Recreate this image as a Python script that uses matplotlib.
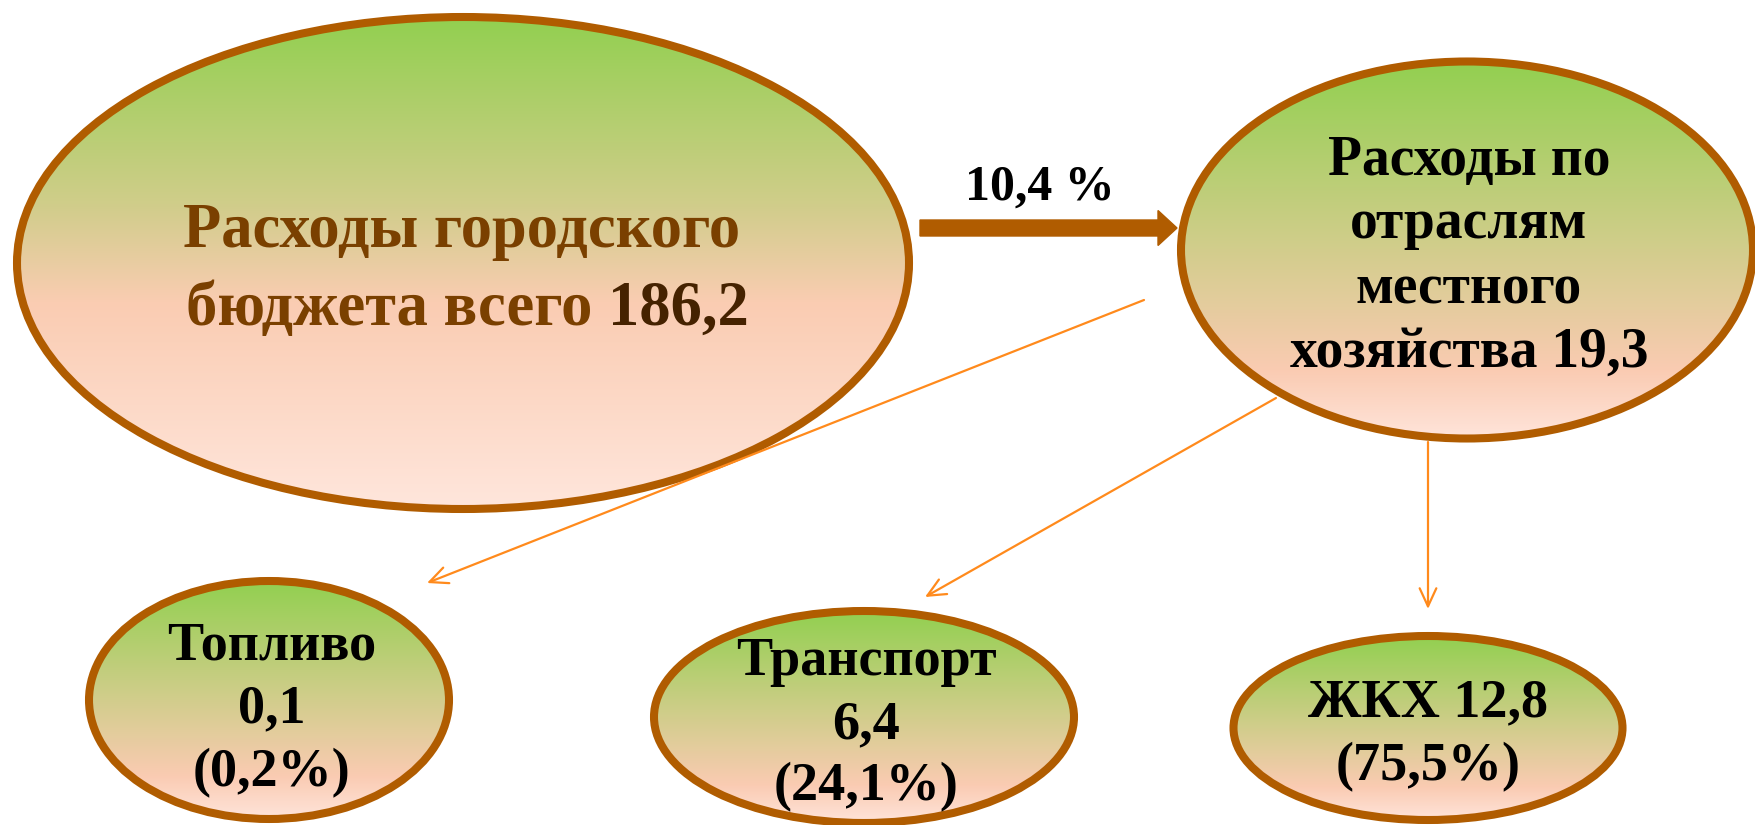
import numpy as np
import matplotlib
matplotlib.use('Agg')
import matplotlib.pyplot as plt
from matplotlib.patches import Ellipse, FancyArrowPatch
from matplotlib.colors import LinearSegmentedColormap

# budget figures
totalLabel = 'Расходы городского\nбюджета всего'
totalValue = 186.2
localLabel = ['Расходы по', 'отраслям', 'местного', 'хозяйства']
localValue = 19.3
localShare = 10.4
sectorNames = ['Топливо', 'Транспорт', 'ЖКХ']
sectorValues = [0.1, 6.4, 12.8]
sectorShares = [0.2, 24.1, 75.5]

def fmt(v):
    return ('%.1f' % v).replace('.', ',')

W, H = 1756, 825
fig = plt.figure(figsize=(W/100, H/100), dpi=100)
ax = fig.add_axes([0, 0, 1, 1])

edgeCol = '#B05C00'
lineCol = '#FF8A1C'
fontFam = ['Liberation Serif', 'DejaVu Serif']

bigCmap = LinearSegmentedColormap.from_list('big', [
    (0.0, (146/255, 208/255, 80/255)),
    (0.38, (208/255, 205/255, 138/255)),
    (0.58, (250/255, 204/255, 178/255)),
    (1.0, (255/255, 230/255, 220/255))])
smallCmap = LinearSegmentedColormap.from_list('small', [
    (0.0, (146/255, 208/255, 80/255)),
    (0.5, (210/255, 205/255, 140/255)),
    (0.82, (250/255, 203/255, 178/255)),
    (1.0, (255/255, 228/255, 218/255))])

grad = np.linspace(0, 1, 256).reshape(-1, 1)

def gradEllipse(cx, cy, w, h, cmap):
    clip = Ellipse((cx, cy), w, h, facecolor='none', edgecolor='none')
    ax.add_patch(clip)
    im = ax.imshow(grad, cmap=cmap, aspect='auto', origin='upper',
                   extent=(cx - w/2, cx + w/2, cy + h/2, cy - h/2), zorder=1)
    im.set_clip_path(clip)
    ax.add_patch(Ellipse((cx, cy), w, h, facecolor='none', edgecolor=edgeCol,
                         linewidth=5.8, zorder=2))

# ellipses
gradEllipse(463, 263, 892, 492, bigCmap)
gradEllipse(1467, 250, 572, 377, smallCmap)
sectorPos = [(269, 700, 360, 238), (864, 717, 420, 212), (1428, 728, 389, 184)]
for cx, cy, w, h in sectorPos:
    gradEllipse(cx, cy, w, h, smallCmap)

# thick arrow between the top ellipses
ax.arrow(920, 228, 257, 0, width=16, head_width=35, head_length=19,
         length_includes_head=True, color=edgeCol, zorder=3)
ax.text(1040, 200, fmt(localShare) + ' %', ha='center', va='baseline',
        fontsize=36, fontweight='bold', family=fontFam, color='black', zorder=4)

# thin orange arrows
links = [((1144, 300), (427, 583)), ((1276, 398), (925, 597)), ((1428, 442), (1428, 609))]
for p0, p1 in links:
    ax.add_patch(FancyArrowPatch(p0, p1, arrowstyle='->,head_length=13,head_width=6',
                                 mutation_scale=1, color=lineCol, linewidth=1.6,
                                 shrinkA=0, shrinkB=0, zorder=5))

# big ellipse text
l1, l2 = totalLabel.split('\n')
ax.text(462, 247, l1, ha='center', va='baseline', fontsize=45, fontweight='bold',
        family=fontFam, color='#7A4000', zorder=4)
ax.text(592, 325, l2, ha='right', va='baseline', fontsize=45, fontweight='bold',
        family=fontFam, color='#7A4000', zorder=4)
ax.text(608, 325, fmt(totalValue), ha='left', va='baseline', fontsize=45,
        fontweight='bold', family=fontFam, color='#452200', zorder=4)

# right ellipse text
rightLines = localLabel[:3] + [localLabel[3] + ' ' + fmt(localValue)]
for s, yb in zip(rightLines, [175, 238, 303, 367]):
    ax.text(1469, yb, s, ha='center', va='baseline', fontsize=40, fontweight='bold',
            family=fontFam, color='black', zorder=4)

# sector text
sectorLines = [
    [sectorNames[0], fmt(sectorValues[0]), '(' + fmt(sectorShares[0]) + '%)'],
    [sectorNames[1], fmt(sectorValues[1]), '(' + fmt(sectorShares[1]) + '%)'],
    [sectorNames[2] + ' ' + fmt(sectorValues[2]), '(' + fmt(sectorShares[2]) + '%)'],
]
sectorX = [272, 866, 1428]
sectorBase = [[659, 722, 786], [675, 738, 800], [716, 780]]
for lines, x, bases in zip(sectorLines, sectorX, sectorBase):
    for s, yb in zip(lines, bases):
        ax.text(x, yb, s, ha='center', va='baseline', fontsize=39, fontweight='bold',
                family=fontFam, color='black', zorder=4)

ax.set_xlim(0, W)
ax.set_ylim(H, 0)
ax.axis('off')
fig.savefig('out.png', dpi=100)
